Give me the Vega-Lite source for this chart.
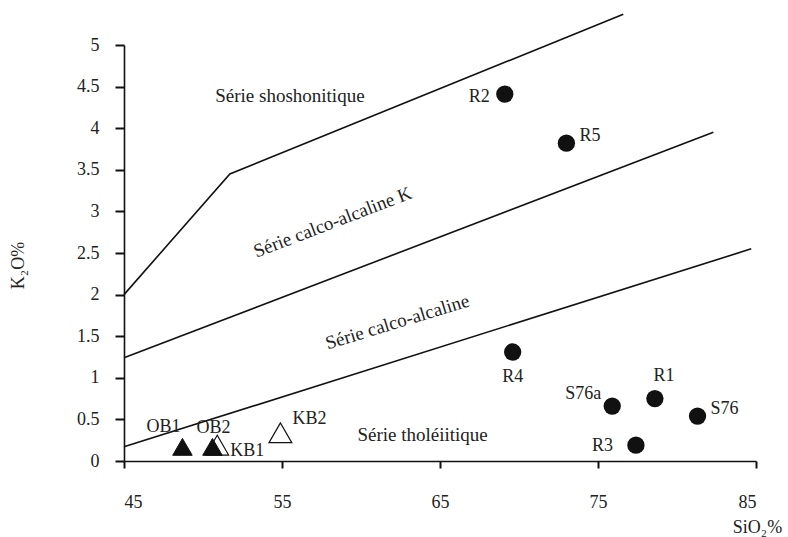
{
  "$schema": "https://vega.github.io/schema/vega-lite/v6.json",
  "width": 632,
  "height": 416,
  "autosize": {"type": "none"},
  "padding": {"left": 124, "top": 45, "right": 32, "bottom": 76},
  "background": "white",
  "config": {
    "view": {"stroke": null},
    "font": "Liberation Serif",
    "text": {"font": "Liberation Serif", "fontSize": 18, "color": "#222222"},
    "axisX": {
      "grid": false,
      "domainColor": "#111111", "domainWidth": 1.6, "tickColor": "#111111", "tickWidth": 2, "tickSize": 7,
      "labelFont": "Liberation Serif", "labelFontSize": 18, "labelColor": "#222222", "labelPadding": 25,
      "titleFont": "Liberation Serif", "titleFontSize": 18, "titleFontWeight": "normal", "titleColor": "#222222",
      "titleX": 633, "titleY": 66, "titleAlign": "center", "titleBaseline": "middle"
    },
    "axisY": {
      "grid": false,
      "domainColor": "#111111", "domainWidth": 1.6, "tickColor": "#111111", "tickWidth": 2, "tickSize": 9,
      "labelFont": "Liberation Serif", "labelFontSize": 18, "labelColor": "#222222", "labelPadding": 16,
      "titleFont": "Liberation Serif", "titleFontSize": 18, "titleFontWeight": "normal", "titleColor": "#222222",
      "titleX": -106, "titleY": 220, "titleAngle": 270, "titleAlign": "center", "titleBaseline": "middle"
    }
  },
  "datasets": {
    "bounds": [
      {"b": "1", "x": 45, "y": 2.0},
      {"b": "1", "x": 51.7, "y": 3.45},
      {"b": "1", "x": 76.6, "y": 5.37},
      {"b": "2", "x": 45, "y": 1.24},
      {"b": "2", "x": 82.3, "y": 3.95},
      {"b": "3", "x": 45, "y": 0.17},
      {"b": "3", "x": 84.7, "y": 2.55}
    ],
    "rocks": [
      {"name": "R1", "x": 78.6, "y": 0.75},
      {"name": "R2", "x": 69.1, "y": 4.41},
      {"name": "R3", "x": 77.4, "y": 0.19},
      {"name": "R4", "x": 69.6, "y": 1.31},
      {"name": "R5", "x": 73.0, "y": 3.82},
      {"name": "S76", "x": 81.3, "y": 0.54},
      {"name": "S76a", "x": 75.9, "y": 0.66}
    ],
    "basalts": [
      {"name": "OB1", "group": "OB", "x": 48.7, "y": 0.17},
      {"name": "OB2", "group": "OB", "x": 50.6, "y": 0.17},
      {"name": "KB1", "group": "KB", "x": 50.9, "y": 0.19},
      {"name": "KB2", "group": "KB", "x": 54.9, "y": 0.34}
    ],
    "regions": [
      {"label": "Série shoshonitique", "x": 55.5, "y": 4.39},
      {"label": "Série calco-alcaline K", "x": 58.2, "y": 2.87},
      {"label": "Série calco-alcaline", "x": 62.3, "y": 1.67},
      {"label": "Série tholéiitique", "x": 63.9, "y": 0.31}
    ]
  },
  "encoding": {
    "x": {
      "field": "x", "type": "quantitative", "title": "SiO₂%",
      "scale": {"domain": [45, 85], "nice": false, "zero": false},
      "axis": {"values": [45, 55, 65, 75, 85], "format": "d"}
    },
    "y": {
      "field": "y", "type": "quantitative", "title": "K₂O%",
      "scale": {"domain": [0, 5], "nice": false, "zero": false},
      "axis": {"values": [0, 0.5, 1, 1.5, 2, 2.5, 3, 3.5, 4, 4.5, 5], "format": "~g"}
    }
  },
  "layer": [
    {
      "data": {"name": "bounds"},
      "mark": {"type": "line", "color": "#111111", "strokeWidth": 1.6},
      "encoding": {"detail": {"field": "b"}}
    },
    {
      "data": {"name": "rocks"},
      "mark": {"type": "point", "shape": "circle", "filled": true, "color": "#111111", "size": 300, "opacity": 1}
    },
    {
      "data": {"name": "basalts"},
      "transform": [{"filter": "datum.group === 'KB'"}],
      "mark": {"type": "point", "shape": "triangle-up", "filled": true, "fill": "white", "stroke": "#111111", "strokeWidth": 1.2, "size": 520, "opacity": 1}
    },
    {
      "data": {"name": "basalts"},
      "transform": [{"filter": "datum.group === 'OB'"}],
      "mark": {"type": "point", "shape": "triangle-up", "filled": true, "fill": "#111111", "stroke": "#111111", "strokeWidth": 1, "size": 380, "opacity": 1}
    },
    {
      "data": {"name": "rocks"},
      "transform": [{"filter": "datum.name === 'R2'"}],
      "mark": {"type": "text", "align": "right", "baseline": "middle", "dx": -15, "dy": 3},
      "encoding": {"text": {"field": "name"}}
    },
    {
      "data": {"name": "rocks"},
      "transform": [{"filter": "datum.name === 'R5'"}],
      "mark": {"type": "text", "align": "left", "baseline": "middle", "dx": 13, "dy": -7},
      "encoding": {"text": {"field": "name"}}
    },
    {
      "data": {"name": "rocks"},
      "transform": [{"filter": "datum.name === 'R4'"}],
      "mark": {"type": "text", "align": "center", "baseline": "middle", "dx": 0, "dy": 25},
      "encoding": {"text": {"field": "name"}}
    },
    {
      "data": {"name": "rocks"},
      "transform": [{"filter": "datum.name === 'S76a'"}],
      "mark": {"type": "text", "align": "right", "baseline": "middle", "dx": -11, "dy": -12},
      "encoding": {"text": {"field": "name"}}
    },
    {
      "data": {"name": "rocks"},
      "transform": [{"filter": "datum.name === 'R1'"}],
      "mark": {"type": "text", "align": "center", "baseline": "middle", "dx": 9, "dy": -23},
      "encoding": {"text": {"field": "name"}}
    },
    {
      "data": {"name": "rocks"},
      "transform": [{"filter": "datum.name === 'S76'"}],
      "mark": {"type": "text", "align": "left", "baseline": "middle", "dx": 13, "dy": -7},
      "encoding": {"text": {"field": "name"}}
    },
    {
      "data": {"name": "rocks"},
      "transform": [{"filter": "datum.name === 'R3'"}],
      "mark": {"type": "text", "align": "right", "baseline": "middle", "dx": -23, "dy": 1},
      "encoding": {"text": {"field": "name"}}
    },
    {
      "data": {"name": "basalts"},
      "transform": [{"filter": "datum.name === 'OB1'"}],
      "mark": {"type": "text", "align": "center", "baseline": "middle", "dx": -19, "dy": -20},
      "encoding": {"text": {"field": "name"}}
    },
    {
      "data": {"name": "basalts"},
      "transform": [{"filter": "datum.name === 'OB2'"}],
      "mark": {"type": "text", "align": "center", "baseline": "middle", "dx": 1, "dy": -19},
      "encoding": {"text": {"field": "name"}}
    },
    {
      "data": {"name": "basalts"},
      "transform": [{"filter": "datum.name === 'KB1'"}],
      "mark": {"type": "text", "align": "left", "baseline": "middle", "dx": 13, "dy": 6},
      "encoding": {"text": {"field": "name"}}
    },
    {
      "data": {"name": "basalts"},
      "transform": [{"filter": "datum.name === 'KB2'"}],
      "mark": {"type": "text", "align": "left", "baseline": "middle", "dx": 12, "dy": -14},
      "encoding": {"text": {"field": "name"}}
    },
    {
      "data": {"name": "regions"},
      "transform": [{"filter": "datum.label === 'Série shoshonitique' || datum.label === 'Série tholéiitique'"}],
      "mark": {"type": "text", "align": "center", "baseline": "middle", "fontSize": 19},
      "encoding": {"text": {"field": "label"}}
    },
    {
      "data": {"name": "regions"},
      "transform": [{"filter": "datum.label === 'Série calco-alcaline K'"}],
      "mark": {"type": "text", "align": "center", "baseline": "middle", "angle": 339, "fontSize": 19},
      "encoding": {"text": {"field": "label"}}
    },
    {
      "data": {"name": "regions"},
      "transform": [{"filter": "datum.label === 'Série calco-alcaline'"}],
      "mark": {"type": "text", "align": "center", "baseline": "middle", "angle": 343, "fontSize": 19},
      "encoding": {"text": {"field": "label"}}
    }
  ]
}
